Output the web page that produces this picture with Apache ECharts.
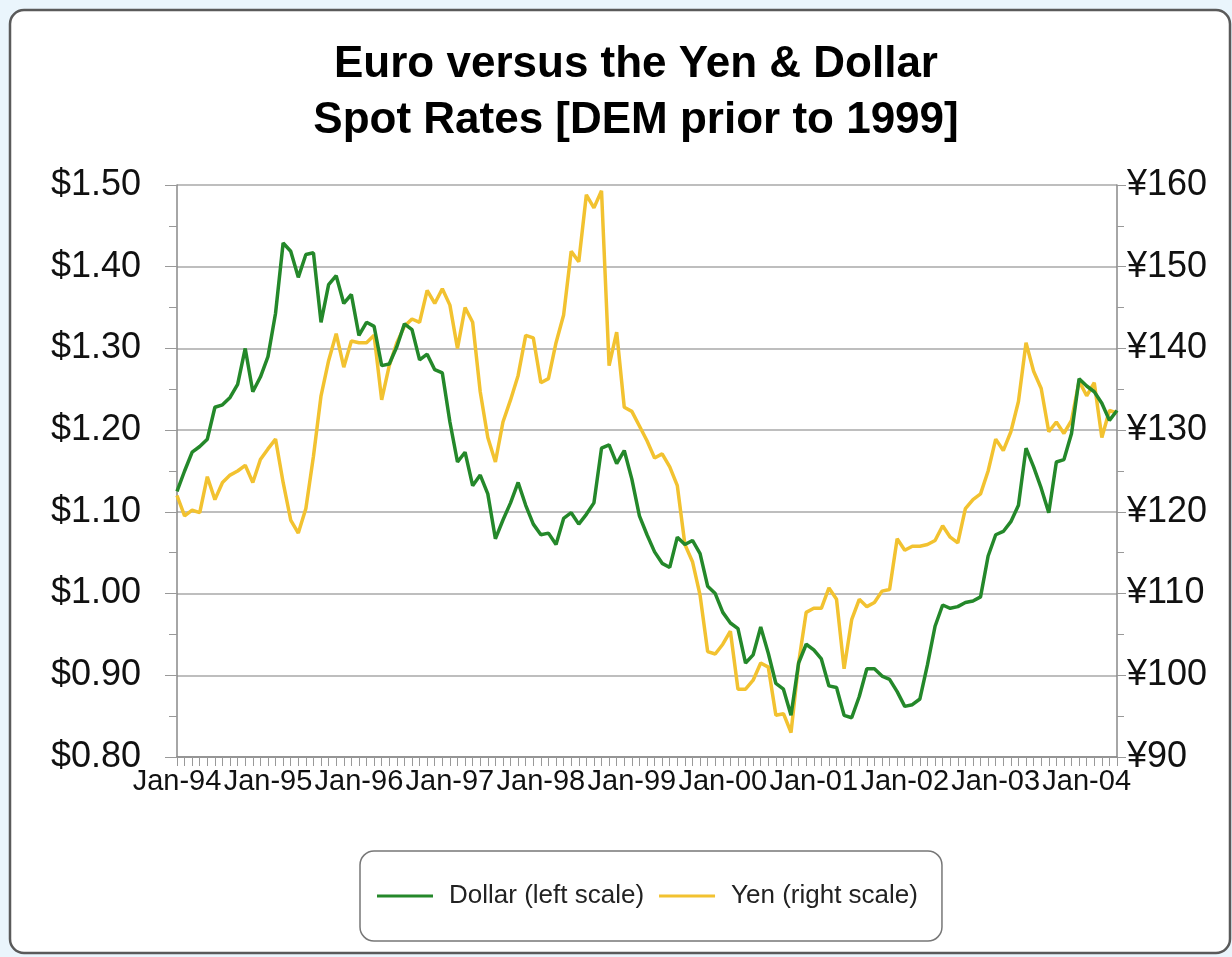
<!DOCTYPE html>
<html>
<head>
<meta charset="utf-8">
<script src="https://cdn.jsdelivr.net/npm/echarts@6/dist/echarts.min.js"></script>
<style>
  html, body { margin: 0; padding: 0; background: #eaf5fc; }
  #chart { width: 1232px; height: 957px; }
</style>
</head>
<body>
<div id="chart"></div>
<script>
// Euro spot rates, monthly Jan-94 .. May-04
var years = ['94', '95', '96', '97', '98', '99', '00', '01', '02', '03', '04'];
var monthNames = ['Jan', 'Feb', 'Mar', 'Apr', 'May', 'Jun', 'Jul', 'Aug', 'Sep', 'Oct', 'Nov', 'Dec'];

var dollar = [
    1.125, 1.150, 1.173, 1.180, 1.189, 1.228, 1.231, 1.240, 1.256, 1.300, 1.247, 1.265,
    1.290, 1.343, 1.429, 1.419, 1.387, 1.415, 1.417, 1.332, 1.378, 1.389, 1.355, 1.366,
    1.316, 1.332, 1.327, 1.279, 1.281, 1.302, 1.330, 1.323, 1.286, 1.293, 1.274, 1.270,
    1.210, 1.161, 1.173, 1.132, 1.145, 1.122, 1.067, 1.090, 1.111, 1.136, 1.108, 1.085,
    1.072, 1.074, 1.060, 1.092, 1.099, 1.085, 1.097, 1.111, 1.178, 1.182, 1.159, 1.175,
    1.140, 1.095, 1.072, 1.051, 1.037, 1.032, 1.069, 1.060, 1.065, 1.049, 1.009, 1.000,
    0.977, 0.964, 0.957, 0.915, 0.925, 0.959, 0.927, 0.890, 0.883, 0.851, 0.915, 0.938,
    0.931, 0.920, 0.887, 0.885, 0.851, 0.848, 0.874, 0.908, 0.908, 0.899, 0.895, 0.880,
    0.862, 0.864, 0.871, 0.913, 0.960, 0.986, 0.982, 0.984, 0.989, 0.991, 0.996, 1.046,
    1.072, 1.076, 1.088, 1.108, 1.178, 1.155, 1.129, 1.099, 1.161, 1.164, 1.196, 1.263,
    1.254, 1.247, 1.233, 1.212, 1.224
];

var yen = [
    122.0, 119.5, 120.2, 119.9, 124.3, 121.5, 123.6, 124.5, 125.0, 125.7, 123.6, 126.4,
    127.7, 128.9, 123.6, 119.0, 117.4, 120.4, 126.8, 134.2, 138.5, 141.8, 137.7, 140.9,
    140.7, 140.7, 141.6, 133.7, 137.9, 140.7, 142.7, 143.6, 143.2, 147.1, 145.5, 147.3,
    145.3, 140.0, 145.0, 143.2, 134.7, 129.1, 126.1, 131.0, 133.7, 136.7, 141.6, 141.3,
    135.8, 136.3, 140.7, 144.1, 151.9, 150.6, 158.8, 157.2, 159.3, 137.9, 142.0, 132.8,
    132.3, 130.5, 128.7, 126.6, 127.1, 125.5, 123.2, 116.0, 113.9, 109.8, 102.9, 102.6,
    103.8, 105.4, 98.3, 98.3, 99.4, 101.5, 101.0, 95.1, 95.3, 93.0, 101.5, 107.7,
    108.2, 108.2, 110.7, 109.3, 100.8, 106.8, 109.3, 108.4, 108.9, 110.3, 110.5, 116.7,
    115.3, 115.8, 115.8, 116.0, 116.5, 118.3, 116.9, 116.2, 120.4, 121.5, 122.2, 125.0,
    128.9, 127.5, 129.8, 133.5, 140.7, 137.2, 135.1, 129.8, 131.0, 129.6, 131.2, 136.0,
    134.2, 135.8, 129.1, 132.4, 132.1
];

var months = [];
for (var i = 0; i < dollar.length; i++) {
    months.push(monthNames[i % 12] + '-' + years[Math.floor(i / 12)]);
}

var font = 'Liberation Sans, Arial, sans-serif';
var myChart = echarts.init(document.getElementById('chart'));

var option = {
    animation: false,
    graphic: [{
        type: 'rect',
        z: -10,
        shape: { x: 10, y: 10, width: 1220, height: 943, r: 14 },
        style: { fill: '#ffffff', stroke: '#5a5a5a', lineWidth: 2.5 }
    }],
    title: {
        text: 'Euro versus the Yen & Dollar\nSpot Rates [DEM prior to 1999]',
        left: 631,
        top: 32,
        textAlign: 'center',
        textStyle: {
            fontFamily: font,
            fontSize: 44,
            fontWeight: 'bold',
            color: '#000',
            lineHeight: 56
        }
    },
    legend: {
        data: ['Dollar (left scale)', 'Yen (right scale)'],
        left: 360,
        top: 851,
        padding: [32, 24, 32, 17],
        itemGap: 15,
        itemWidth: 56,
        itemHeight: 3,
        icon: 'rect',
        borderColor: '#777',
        borderWidth: 1.5,
        borderRadius: 14,
        textStyle: { fontFamily: font, fontSize: 26, color: '#222', padding: [0, 0, 0, 11] }
    },
    grid: { left: 177, right: 115, top: 185, bottom: 200 },
    xAxis: {
        type: 'category',
        data: months,
        boundaryGap: false,
        axisLine: { lineStyle: { color: '#888', width: 1.5 } },
        axisTick: { interval: 0, length: 9, lineStyle: { color: '#999' } },
        axisLabel: {
            interval: 11,
            hideOverlap: false,
            showMinLabel: true,
            margin: 10,
            fontFamily: font,
            fontSize: 29,
            color: '#111'
        },
        splitLine: { show: false }
    },
    yAxis: [{
        type: 'value',
        min: 0.8,
        max: 1.5,
        interval: 0.1,
        axisLine: { show: true, lineStyle: { color: '#888', width: 1.5 } },
        axisTick: { show: true, length: 12, lineStyle: { color: '#999' } },
        minorTick: { show: true, splitNumber: 2, length: 8, lineStyle: { color: '#999' } },
        axisLabel: {
            margin: 36,
            fontFamily: font,
            fontSize: 36,
            color: '#111',
            formatter: function (v) { return '$' + v.toFixed(2); }
        },
        splitLine: { show: true, lineStyle: { color: '#a8a8a8', width: 1.5 } }
    }, {
        type: 'value',
        min: 90,
        max: 160,
        interval: 10,
        position: 'right',
        axisLine: { show: true, lineStyle: { color: '#888', width: 1.5 } },
        axisTick: { show: true, length: 9, lineStyle: { color: '#999' } },
        minorTick: { show: true, splitNumber: 2, length: 7, lineStyle: { color: '#999' } },
        axisLabel: {
            margin: 10,
            fontFamily: font,
            fontSize: 36,
            color: '#111',
            formatter: function (v) { return '¥' + v; }
        },
        splitLine: { show: false }
    }],
    series: [{
        name: 'Yen (right scale)',
        type: 'line',
        yAxisIndex: 1,
        data: yen,
        symbol: 'none',
        color: '#f2c230',
        lineStyle: { width: 3.5, color: '#f2c230' }
    }, {
        name: 'Dollar (left scale)',
        type: 'line',
        yAxisIndex: 0,
        data: dollar,
        symbol: 'none',
        color: '#24882a',
        lineStyle: { width: 3.5, color: '#24882a' }
    }]
};

myChart.setOption(option);
</script>
</body>
</html>
